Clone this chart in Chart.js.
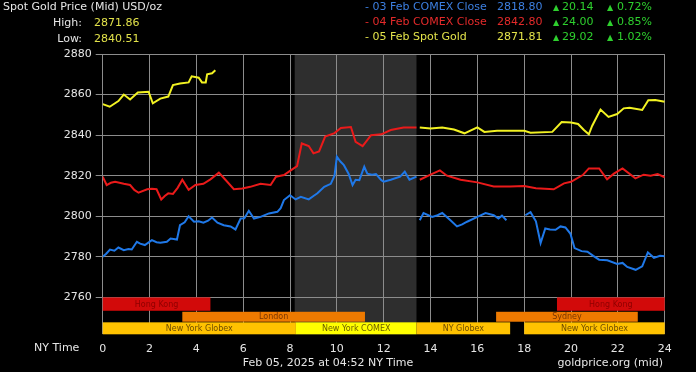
<!DOCTYPE html>
<html>
<head>
<meta charset="utf-8">
<script src="https://cdn.jsdelivr.net/npm/chart.js@4"></script>
<style>
    body { margin: 0; background: #fff; }
    #wrap { position: relative; width: 700px; height: 375px; background: #fff; overflow: hidden; }
    #bg { position: absolute; left: 0; top: 0; width: 696px; height: 372px; background: #000; }
    #goldChart { position: absolute; left: 0; top: 0; }
    .t { position: absolute; font-family: "DejaVu Sans", sans-serif; font-size: 11px; line-height: 14px; white-space: nowrap; color: #e6e6e6; }
    .blue { color: #3c7fe0; }
    .red { color: #e42a2a; }
    .yellow { color: #e2e24a; }
    .green { color: #2ed02e; }
    .tri { font-size: 8px; }
</style>
</head>
<body>
<div id="wrap">
    <div id="bg"></div>
    <canvas id="goldChart" width="700" height="375"></canvas>

    <div class="t" style="left:3px; top:0px;">Spot Gold Price (Mid) USD/oz</div>
    <div class="t" style="left:30px; top:16px; width:52px; text-align:right;">High:</div>
    <div class="t yellow" style="left:94px; top:16px;">2871.86</div>
    <div class="t" style="left:30px; top:32px; width:52px; text-align:right;">Low:</div>
    <div class="t yellow" style="left:94px; top:32px;">2840.51</div>

    <div class="t blue" style="left:365px; top:0px;">- 03 Feb COMEX Close</div>
    <div class="t blue" style="left:497px; top:0px;">2818.80</div>
    <div class="t green tri" style="left:553px; top:1px;">▲</div>
    <div class="t green" style="left:562px; top:0px;">20.14</div>
    <div class="t green tri" style="left:607px; top:1px;">▲</div>
    <div class="t green" style="left:617px; top:0px;">0.72%</div>

    <div class="t red" style="left:365px; top:15px;">- 04 Feb COMEX Close</div>
    <div class="t red" style="left:497px; top:15px;">2842.80</div>
    <div class="t green tri" style="left:553px; top:16px;">▲</div>
    <div class="t green" style="left:562px; top:15px;">24.00</div>
    <div class="t green tri" style="left:607px; top:16px;">▲</div>
    <div class="t green" style="left:617px; top:15px;">0.85%</div>

    <div class="t yellow" style="left:365px; top:30px;">- 05 Feb Spot Gold</div>
    <div class="t yellow" style="left:497px; top:30px;">2871.81</div>
    <div class="t green tri" style="left:553px; top:31px;">▲</div>
    <div class="t green" style="left:562px; top:30px;">29.02</div>
    <div class="t green tri" style="left:607px; top:31px;">▲</div>
    <div class="t green" style="left:617px; top:30px;">1.02%</div>

    <div class="t" style="left:34px; top:341px;">NY Time</div>
    <div class="t" style="left:328px; top:356px; transform:translateX(-50%);">Feb 05, 2025 at 04:52 NY Time</div>
    <div class="t" style="right:37px; top:356px;">goldprice.org (mid)</div>
</div>

<script>
// Spot gold, hours of the NY day (0-24) and prices. null breaks a line.
const blueHours = [0, 0.15, 0.31, 0.5, 0.67, 0.9, 1.1, 1.24, 1.46, 1.6, 1.8, 2.1, 2.3, 2.46, 2.74, 2.9, 3.17, 3.3, 3.5, 3.67,
    3.9, 4.1, 4.3, 4.5, 4.67, 4.9, 5.17, 5.46, 5.67, 5.89, 6.05, 6.24, 6.46, 6.74, 7.1, 7.46, 7.6, 7.74, 8.0, 8.24,
    8.46, 8.8, 9.0, 9.17, 9.46, 9.74, 9.9, 10.0, 10.15, 10.3, 10.5, 10.67, 10.8, 10.96, 11.17, 11.3, 11.5, 11.67, 11.9, 12.0,
    12.3, 12.7, 12.9, 13.1, 13.4, 13.47,
    13.54, 13.7, 14.07, 14.3, 14.5, 14.85, 15.13, 15.35, 15.56, 16.0, 16.35, 16.7, 16.9, 17.05, 17.24, 17.6,
    18.05, 18.27, 18.5, 18.7, 18.9, 19.1, 19.34, 19.55, 19.76, 19.97, 20.15, 20.45, 20.7, 20.95, 21.2, 21.55, 21.97, 22.2,
    22.4, 22.76, 23.04, 23.28, 23.54, 23.8, 24];
const bluePrices = [2780, 2781.5, 2783.6, 2783, 2784.6, 2783.3, 2783.8, 2783.6, 2787.4, 2786.5, 2785.8, 2788.2, 2787.2, 2786.9, 2787.4, 2789, 2788.5, 2795.6, 2797, 2800,
    2797.3, 2797.5, 2796.8, 2797.8, 2799.4, 2796.8, 2795.6, 2795, 2793.5, 2798.9, 2799, 2802.7, 2798.9, 2799.7, 2801.4, 2802.2, 2804, 2808, 2810.4, 2808.3,
    2809.6, 2808.3, 2810, 2811.3, 2814.5, 2816, 2820, 2829.4, 2827, 2825.2, 2821, 2815.4, 2818, 2817.8, 2824.4, 2821, 2820.5, 2820.8, 2817.8, 2817,
    2818, 2819.5, 2822, 2818, 2819.5, null,
    2798, 2801.6, 2799.7, 2800.5, 2801.6, 2798, 2795, 2796, 2797.3, 2799.7, 2801.6, 2800.5, 2798.9, 2800.3, 2798, null,
    2800.5, 2802, 2797.5, 2786.8, 2794, 2793.5, 2793.3, 2795, 2794.5, 2791.5, 2784.3, 2782.8, 2782.5, 2780.5, 2778.6, 2778.3, 2776.5, 2777,
    2775, 2773.6, 2775.3, 2782.2, 2779.5, 2780.5, 2780.3];

const redHours = [0, 0.17, 0.35, 0.53, 0.9, 1.17, 1.35, 1.53, 1.9, 2.1, 2.3, 2.5, 2.65, 2.8, 3.0, 3.2, 3.4, 3.67, 3.96, 4.3,
    4.6, 4.96, 5.24, 5.6, 5.96, 6.3, 6.74, 7.17, 7.4, 7.74, 8.0, 8.3, 8.5, 8.8, 9.0, 9.24, 9.5, 9.9, 10.17, 10.6,
    10.8, 11.1, 11.46, 11.9, 12.3, 12.85, 13.4, 13.47,
    13.54, 14.0, 14.4, 14.7, 15.28, 16.0, 16.7, 17.4, 18.0, 18.5, 19.26, 19.7, 20.0, 20.5, 20.76, 21.2, 21.54, 21.83, 22.2, 22.75,
    23.1, 23.4, 23.7, 24];
const redPrices = [2819.5, 2815.4, 2816.5, 2817, 2816, 2815.4, 2813, 2811.6, 2813.3, 2813.5, 2813.3, 2808.3, 2810, 2811.3, 2811, 2814, 2818, 2813, 2815.4, 2816,
    2818.2, 2821.5, 2818, 2813.3, 2813.7, 2814.5, 2816, 2815.4, 2819.5, 2820.3, 2822.4, 2824.7, 2835.9, 2834.6, 2831, 2832, 2839.3, 2841, 2843.5, 2844,
    2836.7, 2834.6, 2840, 2840.4, 2842.5, 2843.8, 2843.8, null,
    2818, 2820.5, 2822.6, 2820, 2818, 2816.7, 2814.7, 2814.7, 2814.9, 2813.8, 2813.3, 2816.2, 2817, 2820.3, 2823.6, 2823.6, 2818.2, 2821, 2823.6, 2818.7,
    2820.5, 2820, 2820.8, 2819.2];

const yellowHours = [0, 0.3, 0.67, 0.9, 1.17, 1.5, 1.96, 2.14, 2.46, 2.8, 3.0, 3.3, 3.67, 3.8, 4.1, 4.24, 4.4, 4.46, 4.67, 4.81, 9.0,
    13.54, 14.0, 14.5, 15.0, 15.45, 16.0, 16.3, 16.84, 18.0, 18.27, 19.2, 19.6, 20.0, 20.3, 20.55, 20.76, 20.9, 21.26, 21.6,
    21.97, 22.25, 22.5, 23.04, 23.3, 23.6, 24];
const yellowPrices = [2855.3, 2854, 2856.8, 2860, 2857.6, 2861, 2861.4, 2855.7, 2858, 2859, 2864.7, 2865.5, 2866, 2869, 2868.3, 2866, 2866, 2870, 2870.5, 2872, null,
    2843.8, 2843.3, 2843.8, 2842.8, 2840.9, 2843.8, 2841.6, 2842.1, 2842.1, 2841.2, 2841.6, 2846.5, 2846.2, 2845.5, 2842.5, 2840.4, 2844.5, 2852.6, 2849,
    2850.4, 2853.2, 2853.5, 2852.4, 2857.2, 2857.3, 2856.5];

const xTicks = [0, 2, 4, 6, 8, 10, 12, 14, 16, 18, 20, 22, 24];
const yTicks = [2760, 2780, 2800, 2820, 2840, 2860, 2880];

// COMEX floor hours (shaded band)
const comexStart = 8.2;
const comexEnd = 13.4;

// trading sessions shown as bars under the price lines
const sessionNames = ['Hong Kong', 'Hong Kong', 'London', 'Sydney', 'New York Globex', 'New York COMEX', 'NY Globex', 'New York Globex'];
const sessionStarts = [0, 19.4, 3.4, 16.8, 0, 8.25, 13.4, 18];
const sessionEnds = [4.6, 24, 11.2, 22.85, 8.25, 13.4, 17.4, 24];
const sessionRows = [0, 0, 1, 1, 2, 2, 2, 2];
// each row is a price band on the y scale
const rowTops = [2760, 2752.9, 2747.7];
const rowBottoms = [2753.4, 2748, 2741.8];
const sessionFill = ['#d20a0a', '#d20a0a', '#ee7a00', '#ee7a00', '#ffc200', '#ffff00', '#ffc200', '#ffc200'];
const sessionText = ['#8e0000', '#8e0000', '#7a3600', '#7a3600', '#6e4c00', '#6a5c00', '#6e4c00', '#6e4c00'];

function toPoints(hours, prices) {
    return hours.map((h, i) => ({ x: h, y: prices[i] }));
}

const sessionsPlugin = {
    id: 'sessions',
    beforeDraw(chart) {
        const { ctx, chartArea, scales } = chart;
        const x1 = scales.x.getPixelForValue(comexStart);
        const x2 = scales.x.getPixelForValue(comexEnd);
        ctx.save();
        ctx.fillStyle = '#2e2e2e';
        ctx.fillRect(x1, chartArea.top, x2 - x1, chartArea.bottom - chartArea.top);
        ctx.restore();
    },
    beforeDatasetsDraw(chart) {
        const { ctx, scales } = chart;
        ctx.save();
        ctx.font = '8px "DejaVu Sans", sans-serif';
        ctx.textAlign = 'center';
        ctx.textBaseline = 'middle';
        for (let i = 0; i < sessionNames.length; i++) {
            const x1 = scales.x.getPixelForValue(sessionStarts[i]);
            const x2 = scales.x.getPixelForValue(sessionEnds[i]);
            const y1 = scales.y.getPixelForValue(rowTops[sessionRows[i]]);
            const y2 = scales.y.getPixelForValue(rowBottoms[sessionRows[i]]);
            ctx.fillStyle = sessionFill[i];
            ctx.fillRect(x1, y1, x2 - x1, y2 - y1);
            ctx.fillStyle = sessionText[i];
            ctx.fillText(sessionNames[i], (x1 + x2) / 2, (y1 + y2) / 2 + 0.5);
        }
        ctx.restore();
    }
};

const lineStyle = { borderWidth: 2, pointRadius: 0, tension: 0, spanGaps: false, fill: false };

new Chart(document.getElementById('goldChart'), {
    type: 'line',
    data: {
        datasets: [
            Object.assign({ label: '03 Feb COMEX Close', data: toPoints(blueHours, bluePrices), borderColor: '#1f78e8' }, lineStyle),
            Object.assign({ label: '04 Feb COMEX Close', data: toPoints(redHours, redPrices), borderColor: '#ea1a1a' }, lineStyle),
            Object.assign({ label: '05 Feb Spot Gold', data: toPoints(yellowHours, yellowPrices), borderColor: '#f2f222' }, lineStyle)
        ]
    },
    options: {
        responsive: false,
        animation: false,
        layout: { padding: { top: 54, right: 35.3, left: 0, bottom: 0 } },
        plugins: { legend: { display: false }, tooltip: { enabled: false } },
        scales: {
            x: {
                type: 'linear',
                min: 0,
                max: 24,
                afterBuildTicks: axis => { axis.ticks = xTicks.map(v => ({ value: v })); },
                afterFit: axis => { axis.height = 40.7; },
                grid: { color: '#8c8c8c', lineWidth: 1, drawTicks: false },
                border: { display: false },
                ticks: { color: '#e6e6e6', padding: 8, font: { family: 'DejaVu Sans', size: 11 }, callback: v => String(v) }
            },
            y: {
                min: 2741.8,
                max: 2880,
                afterBuildTicks: axis => { axis.ticks = yTicks.map(v => ({ value: v })); },
                afterFit: axis => { axis.width = 102.7; },
                grid: { color: '#8c8c8c', lineWidth: 1, drawTicks: true, tickLength: 7 },
                border: { display: false },
                ticks: { color: '#e6e6e6', padding: 4, font: { family: 'DejaVu Sans', size: 11 }, callback: v => String(v) }
            }
        }
    },
    plugins: [sessionsPlugin]
});
</script>
</body>
</html>
